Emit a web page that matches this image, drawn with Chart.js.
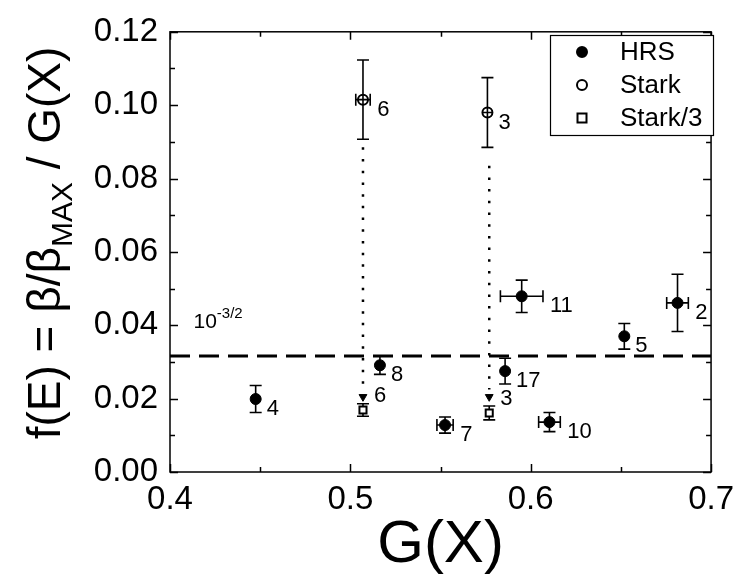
<!DOCTYPE html>
<html>
<head>
<meta charset="utf-8">
<script src="https://cdn.jsdelivr.net/npm/chart.js@4.4.1/dist/chart.umd.min.js"></script>
<style>
  html, body { margin: 0; padding: 0; background: #fff; }
  #wrap { width: 742px; height: 581px; }
</style>
</head>
<body>
<div id="wrap"><canvas id="chart" width="742" height="581"></canvas></div>
<script>
const FONT = "'Liberation Sans', Arial, Helvetica, sans-serif";

// HRS measurements
const hrsX = [0.4475, 0.5164, 0.5525, 0.5858, 0.5950, 0.6104, 0.6519, 0.6814];
const hrsY = [0.0199, 0.0291, 0.0128, 0.0275, 0.0479, 0.0136, 0.0370, 0.0461];
const hrsXErr = [0.002, 0.002, 0.0045, 0, 0.0118, 0.0060, 0, 0.0060];
const hrsYErr = [0.0037, 0.0025, 0.0022, 0.0035, 0.0044, 0.0026, 0.0035, 0.0078];
const hrsLabels = ['4', '8', '7', '17', '11', '10', '5', '2'];

// Stark measurements
const starkX = [0.507, 0.576];
const starkY = [0.1015, 0.0980];
const starkXErr = [0.004, 0.0027];
const starkYErr = [0.0108, 0.0095];
const starkLabels = ['6', '3'];

// Stark divided by 3
const stark3X = [0.507, 0.577];
const stark3Y = [0.0169, 0.0161];
const stark3XErr = [0, 0];
const stark3YErr = [0.0017, 0.0019];
const stark3Labels = ['6', '3'];

// dotted arrows from Stark to Stark/3
const arrowX = [0.507, 0.577];
const arrowFrom = [0.0885, 0.0835];
const arrowTo = [0.0225, 0.0225];
const arrowTip = [0.0205, 0.0205];

const refLevel = 0.0316; // 10^-3/2
const refLabelPos = { x: 0.413, y: 0.0393 };

const xTicks = [0.4, 0.5, 0.6, 0.7];
const yTicks = [0, 0.02, 0.04, 0.06, 0.08, 0.10, 0.12];

const toPoints = (xs, ys) => xs.map((x, i) => ({ x: x, y: ys[i] }));

function drawErrorBars(chart, index) {
  const ds = chart.data.datasets[index];
  if (!ds.yErr) return;
  const { ctx, scales: { x, y } } = chart;
  const cap = 6;
  ctx.save();
  ctx.strokeStyle = '#000';
  ctx.lineWidth = 1.6;
  ds.data.forEach((p, i) => {
    const px = x.getPixelForValue(p.x);
    const py = y.getPixelForValue(p.y);
    const ey = ds.yErr[i];
    const ex = ds.xErr[i];
    ctx.beginPath();
    if (ey) {
      const top = y.getPixelForValue(p.y + ey);
      const bot = y.getPixelForValue(p.y - ey);
      ctx.moveTo(px, top); ctx.lineTo(px, bot);
      ctx.moveTo(px - cap, top); ctx.lineTo(px + cap, top);
      ctx.moveTo(px - cap, bot); ctx.lineTo(px + cap, bot);
    }
    if (ex) {
      const l = x.getPixelForValue(p.x - ex);
      const r = x.getPixelForValue(p.x + ex);
      ctx.moveTo(l, py); ctx.lineTo(r, py);
      // caps only when they stick out of the marker
      if ((r - l) / 2 > 5.5) {
        ctx.moveTo(l, py - cap); ctx.lineTo(l, py + cap);
        ctx.moveTo(r, py - cap); ctx.lineTo(r, py + cap);
      }
    }
    ctx.stroke();
  });
  ctx.restore();
}

const errorBarPlugin = {
  id: 'errorBars',
  beforeDatasetDraw(chart, args) {
    if (!chart.data.datasets[args.index].barsOnTop) drawErrorBars(chart, args.index);
  },
  afterDatasetDraw(chart, args) {
    if (chart.data.datasets[args.index].barsOnTop) drawErrorBars(chart, args.index);
  }
};

// frame on top/right plus inward ticks on all sides
const framePlugin = {
  id: 'frame',
  afterDraw(chart) {
    const { ctx, chartArea: a, scales: { x, y } } = chart;
    ctx.save();
    ctx.strokeStyle = '#000';
    ctx.lineWidth = 1.5;
    ctx.strokeRect(a.left, a.top, a.right - a.left, a.bottom - a.top);
    ctx.beginPath();
    for (let v = 0.4; v <= 0.7001; v += 0.05) {
      const px = Math.round(x.getPixelForValue(v)) + 0.5;
      const len = Math.abs(v * 10 - Math.round(v * 10)) < 1e-6 ? 8 : 5;
      ctx.moveTo(px, a.bottom); ctx.lineTo(px, a.bottom - len);
      ctx.moveTo(px, a.top); ctx.lineTo(px, a.top + len);
    }
    for (let v = 0; v <= 0.1201; v += 0.01) {
      const py = Math.round(y.getPixelForValue(v)) + 0.5;
      const len = Math.round(v * 100) % 2 === 0 ? 8 : 5;
      ctx.moveTo(a.left, py); ctx.lineTo(a.left + len, py);
      ctx.moveTo(a.right, py); ctx.lineTo(a.right - len, py);
    }
    ctx.stroke();
    ctx.restore();
  }
};

const textPlugin = {
  id: 'texts',
  afterDraw(chart) {
    const { ctx, scales: { x, y } } = chart;
    ctx.save();
    ctx.fillStyle = '#000';

    // point labels
    ctx.font = '22px ' + FONT;
    ctx.textBaseline = 'middle';
    ctx.textAlign = 'left';
    chart.data.datasets.forEach(ds => {
      if (!ds.pointLabels) return;
      ds.data.forEach((p, i) => {
        const ex = ds.xErr[i] || 0;
        const px = x.getPixelForValue(p.x + (ex > 0.003 ? ex : 0));
        const py = y.getPixelForValue(p.y);
        ctx.fillText(ds.pointLabels[i], px + (ex > 0.003 ? 7 : 11), py + ds.labelDy);
      });
    });

    // 10^-3/2 label
    const lx = x.getPixelForValue(refLabelPos.x);
    const ly = y.getPixelForValue(refLabelPos.y);
    ctx.textBaseline = 'alphabetic';
    ctx.font = '21px ' + FONT;
    ctx.fillText('10', lx, ly);
    const w10 = ctx.measureText('10').width;
    ctx.font = '15px ' + FONT;
    ctx.fillText('-3/2', lx + w10, ly - 10);

    // legend box
    const bx = 550, by = 35, bw = 163, bh = 100;
    ctx.fillStyle = '#fff';
    ctx.fillRect(bx, by, bw, bh);
    ctx.strokeStyle = '#000';
    ctx.lineWidth = 1.2;
    ctx.strokeRect(bx + 0.5, by + 0.5, bw, bh);
    const rows = [
      { label: 'HRS', style: 'circle', fill: '#000' },
      { label: 'Stark', style: 'circle', fill: '#fff' },
      { label: 'Stark/3', style: 'rect', fill: '#fff' }
    ];
    rows.forEach((r, i) => {
      const cy = by + 17 + i * 33;
      ctx.fillStyle = r.fill;
      ctx.strokeStyle = '#000';
      ctx.lineWidth = 2;
      ctx.beginPath();
      if (r.style === 'circle') ctx.arc(bx + 32, cy, 5, 0, Math.PI * 2);
      else ctx.rect(bx + 32 - 4.5, cy - 4.5, 9, 9);
      ctx.fill();
      ctx.stroke();
      ctx.fillStyle = '#000';
      ctx.font = '26px ' + FONT;
      ctx.textBaseline = 'middle';
      ctx.fillText(r.label, bx + 70, cy + 1);
    });

    // y axis title with subscript
    const mainFont = '46px ' + FONT;
    const subFont = '30px ' + FONT;
    const parts = [
      { t: 'f(E) = \u03b2/\u03b2', f: mainFont, dy: 0 },
      { t: 'MAX', f: subFont, dy: 12 },
      { t: ' / G(X)', f: mainFont, dy: 0 }
    ];
    let total = 0;
    parts.forEach(p => { ctx.font = p.f; p.w = ctx.measureText(p.t).width; total += p.w; });
    ctx.translate(60, 243);
    ctx.rotate(-Math.PI / 2);
    ctx.textBaseline = 'alphabetic';
    let cx = -total / 2;
    parts.forEach(p => {
      ctx.font = p.f;
      ctx.fillText(p.t, cx, p.dy);
      cx += p.w;
    });
    ctx.restore();
  }
};

const datasets = [
  {
    label: 'HRS',
    data: toPoints(hrsX, hrsY),
    xErr: hrsXErr, yErr: hrsYErr, pointLabels: hrsLabels, labelDy: 10,
    pointStyle: 'circle', pointRadius: 5.5,
    pointBackgroundColor: '#000', pointBorderColor: '#000', pointBorderWidth: 1
  },
  {
    label: 'Stark',
    data: toPoints(starkX, starkY),
    xErr: starkXErr, yErr: starkYErr, pointLabels: starkLabels, labelDy: 10, barsOnTop: true,
    pointStyle: 'circle', pointRadius: 5,
    pointBackgroundColor: '#fff', pointBorderColor: '#000', pointBorderWidth: 2
  },
  {
    label: 'Stark/3',
    data: toPoints(stark3X, stark3Y),
    xErr: stark3XErr, yErr: stark3YErr, pointLabels: stark3Labels, labelDy: -14,
    pointStyle: 'rect', pointRadius: 5,
    pointBackgroundColor: '#fff', pointBorderColor: '#000', pointBorderWidth: 2
  },
  {
    label: 'arrow heads',
    data: toPoints(arrowX, arrowTip),
    pointStyle: 'triangle', rotation: 180, pointRadius: 4.5,
    pointBackgroundColor: '#000', pointBorderColor: '#000', pointBorderWidth: 1
  },
  ...arrowX.map((ax, i) => ({
    label: 'arrow ' + i,
    data: [{ x: ax, y: arrowFrom[i] }, { x: ax, y: arrowTo[i] }],
    showLine: true, pointRadius: 0,
    borderColor: '#000', borderWidth: 2.5, borderDash: [2.5, 9.2], borderCapStyle: 'butt'
  })),
  {
    label: '10^-3/2',
    data: [{ x: 0.4, y: refLevel }, { x: 0.7, y: refLevel }],
    showLine: true, pointRadius: 0,
    borderColor: '#000', borderWidth: 3, borderDash: [20, 9]
  }
];

new Chart(document.getElementById('chart'), {
  type: 'scatter',
  data: { datasets: datasets },
  options: {
    responsive: false,
    animation: false,
    events: [],
    layout: { padding: { top: 31, right: 23, left: 0, bottom: 0 } },
    plugins: {
      legend: { display: false },
      tooltip: { enabled: false }
    },
    scales: {
      x: {
        type: 'linear',
        min: 0.4,
        max: 0.7,
        afterBuildTicks: scale => { scale.ticks = xTicks.map(v => ({ value: v })); },
        afterFit: scale => { scale.height = 109; },
        ticks: {
          color: '#000',
          font: { size: 33, family: FONT },
          padding: 8,
          autoSkip: false,
          maxRotation: 0,
          callback: v => v.toFixed(1)
        },
        grid: { display: false, drawTicks: false },
        border: { display: false },
        title: {
          display: true,
          text: 'G(X)',
          color: '#000',
          font: { size: 60, family: FONT },
          padding: { top: 0, bottom: 0 }
        }
      },
      y: {
        type: 'linear',
        min: 0,
        max: 0.12,
        afterBuildTicks: scale => { scale.ticks = yTicks.map(v => ({ value: v })); },
        afterFit: scale => { scale.width = 170; },
        ticks: {
          color: '#000',
          font: { size: 33, family: FONT },
          padding: 12,
          callback: v => v.toFixed(2)
        },
        grid: { display: false, drawTicks: false },
        border: { display: false }
      }
    }
  },
  plugins: [errorBarPlugin, framePlugin, textPlugin]
});
</script>
</body>
</html>
